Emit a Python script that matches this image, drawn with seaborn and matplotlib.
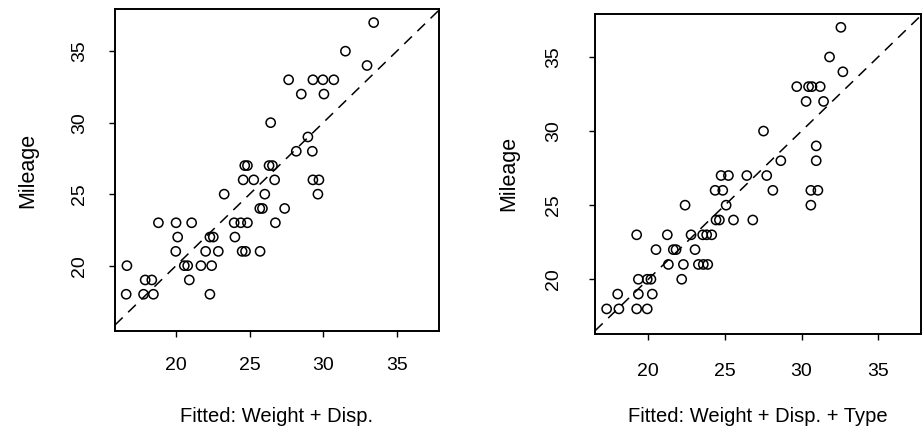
import matplotlib
matplotlib.use("Agg")
import matplotlib.pyplot as plt
import seaborn as sns
import numpy as np

# ---- data (left panel: Weight + Disp.) ----
fit_wd = [16.61, 17.79, 18.46, 22.30,
          17.90, 18.35, 20.90,
          16.66, 20.56, 20.79, 21.69, 22.42,
          19.98, 22.01, 22.87, 24.49, 24.72, 25.71,
          20.11, 22.30, 22.53, 24.00,
          18.80, 20.00, 21.06, 23.95, 24.40, 24.85, 26.75,
          25.69, 25.87, 27.38,
          23.27, 26.03, 29.64,
          24.56, 25.28, 26.70, 29.30, 29.71,
          24.67, 24.85, 26.32, 26.55,
          28.17, 29.26,
          28.96,
          26.43,
          28.51, 30.05,
          27.65, 29.30, 29.98, 30.72,
          32.98,
          31.51,
          33.43]
mpg_wd = [18, 18, 18, 18,
          19, 19, 19,
          20, 20, 20, 20, 20,
          21, 21, 21, 21, 21, 21,
          22, 22, 22, 22,
          23, 23, 23, 23, 23, 23, 23,
          24, 24, 24,
          25, 25, 25,
          26, 26, 26, 26, 26,
          27, 27, 27, 27,
          28, 28,
          29,
          30,
          32, 32,
          33, 33, 33, 33,
          34,
          35,
          37]

# ---- right panel: Weight + Disp. + Type ----
fit_wdt = [17.28, 18.08, 19.24, 19.93,
           18.00, 19.35, 20.26,
           19.35, 19.93, 20.17, 22.18,
           21.31, 22.29, 23.27, 23.59, 23.88,
           20.50, 21.63, 21.81, 23.05,
           19.24, 21.24, 22.79, 23.55, 23.81, 24.14,
           24.42, 24.64, 25.56, 26.82,
           22.40, 25.08, 30.61,
           24.36, 24.86, 28.13, 30.61, 31.07,
           24.75, 25.23, 26.43, 27.73,
           28.65, 30.96,
           30.96,
           27.52,
           30.30, 31.44,
           29.69, 30.46, 30.68, 31.22,
           32.70,
           31.83,
           32.57]
mpg_wdt = [18, 18, 18, 18,
           19, 19, 19,
           20, 20, 20, 20,
           21, 21, 21, 21, 21,
           22, 22, 22, 22,
           23, 23, 23, 23, 23, 23,
           24, 24, 24, 24,
           25, 25, 25,
           26, 26, 26, 26, 26,
           27, 27, 27, 27,
           28, 28,
           29,
           30,
           32, 32,
           33, 33, 33, 33,
           34,
           35,
           37]

ticks = [20, 25, 30, 35]
tick_labels = ["20", "25", "30", "35"]
xlabels = ["Fitted: Weight + Disp.", "Fitted: Weight + Disp. + Type"]
ylabel = "Mileage"

sns.set_theme(style="white")
plt.rcParams["font.family"] = ["Liberation Sans", "DejaVu Sans"]

fig = plt.figure(figsize=(9.22, 4.33), dpi=100)

panels = [
    dict(x=fit_wd, y=mpg_wd, rect=[115/922, (433-331)/433, 324/922, 322/433],
         xlim=(15.85, 37.87), ylim=(15.43, 37.95),
         xpad=14.5, ypad=15.5, ylab_x=(28-115)/324, xlab_y=(331-416)/322),
    dict(x=fit_wdt, y=mpg_wdt, rect=[595/922, (433-333.5)/433, 326/922, 319.5/433],
         xlim=(16.52, 37.8), ylim=(16.34, 37.9),
         xpad=17.0, ypad=19.8, ylab_x=(509-595)/326, xlab_y=(333.5-417)/319.5),
]

for p, xl in zip(panels, xlabels):
    ax = fig.add_axes(p["rect"])
    sns.scatterplot(x=p["x"], y=p["y"], ax=ax, marker="o", s=44,
                    facecolor="none", edgecolor="black", linewidth=1.1,
                    zorder=3)
    ax.axline((20, 20), slope=1, color="black", linestyle=(0, (7, 5)),
              linewidth=1.1)
    ax.set_xlim(*p["xlim"])
    ax.set_ylim(*p["ylim"])
    ax.set_xticks(ticks)
    ax.set_xticklabels(tick_labels)
    ax.set_yticks(ticks)
    ax.set_yticklabels(tick_labels, rotation=90, va="center")
    ax.tick_params(axis="x", direction="out", length=4, width=1,
                   color="black", labelsize=14, pad=p["xpad"],
                   labelcolor="black", bottom=True)
    ax.tick_params(axis="y", direction="out", length=4, width=1,
                   color="black", labelsize=14, pad=p["ypad"],
                   labelcolor="black", left=True)
    for sp in ax.spines.values():
        sp.set_color("black")
        sp.set_linewidth(1.4)
        sp.set_visible(True)
    ax.set_xlabel(xl, fontsize=14.5, color="black", va="center")
    ax.set_ylabel(ylabel, fontsize=15.5, color="black", va="center")
    ax.xaxis.set_label_coords(0.5, p["xlab_y"])
    ax.yaxis.set_label_coords(p["ylab_x"], 0.5)
    ax.set_facecolor("white")
    ax.grid(False)

fig.savefig("out.png", dpi=100, facecolor="white")
